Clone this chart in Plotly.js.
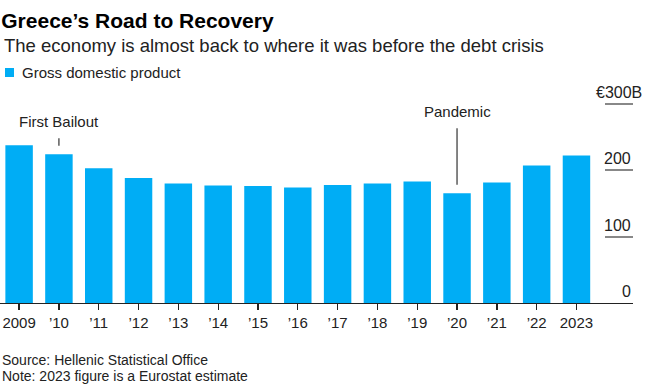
<!DOCTYPE html>
<html>
<head>
<meta charset="utf-8">
<script src="https://cdn.plot.ly/plotly-3.0.1.min.js"></script>
<style>html,body{margin:0;padding:0;background:#fff;}#chart{width:650px;height:387px;}</style>
</head>
<body>
<div id="chart"></div>
<script>
// ---- data ----
const years = ['2009','2010','2011','2012','2013','2014','2015','2016','2017','2018','2019','2020','2021','2022','2023'];
const yearLabels = ['2009','’10','’11','’12','’13','’14','’15','’16','’17','’18','’19','’20','’21','’22','2023'];
const gdp = [237.5, 224, 203, 188, 180, 177, 176, 174, 177.5, 180, 183, 165, 181.5, 207, 222];
const seriesName = 'Gross domestic product';
const yTickVals = [0, 100, 200, 300];
const yTickText = ['0', '100', '200', '€300B'];
const notes = [{year: '2010', text: 'First Bailout'}, {year: '2020', text: 'Pandemic'}];
const titleText = 'Greece’s Road to Recovery';
const subtitleText = 'The economy is almost back to where it was before the debt crisis';
const sourceLines = ['Source: Hellenic Statistical Office', 'Note: 2023 figure is a Eurostat estimate'];

// ---- styling ----
const FONT = 'Liberation Sans, Arial, Helvetica, sans-serif';
const BAR = '#00adf5';
const TXT = '#222222';
const H = 387, MT = 95, MB = 84, PH = H - MT - MB;
const pyToPaper = p => (H - MB - p) / PH;

const annotations = [];
// subtitle
annotations.push({xref:'paper', yref:'paper', x:0.003, y:pyToPaper(46), xanchor:'left', yanchor:'middle',
  text: subtitleText, showarrow:false, font:{family:FONT, size:18.5, color:TXT}});
// legend text
annotations.push({xref:'paper', yref:'paper', x:20/633, y:pyToPaper(72.5), xanchor:'left', yanchor:'middle',
  text: seriesName, showarrow:false, font:{family:FONT, size:15, color:TXT}});
// source lines
sourceLines.forEach((s, i) => annotations.push({xref:'paper', yref:'paper', x:0.002, y:pyToPaper(360 + i*16),
  xanchor:'left', yanchor:'middle', text:s, showarrow:false, borderpad:0, font:{family:FONT, size:14, color:TXT}}));
// y tick labels (above the short gridlines, right-aligned)
yTickVals.forEach((v, i) => annotations.push({xref:'paper', yref:'y', x:1, y:v, xanchor:'right', yanchor:'bottom',
  xshift: yTickText[i].endsWith('B') ? 11 : 0, yshift: 1,
  text:yTickText[i], showarrow:false, font:{family:FONT, size:16, color:TXT}}));
// event notes
const offsets = {'2010': -33, '2020': -82};
notes.forEach(n => {
  const idx = years.indexOf(n.year);
  annotations.push({x:idx, y:gdp[idx], xref:'x', yref:'y', text:n.text, showarrow:true,
    arrowhead:0, arrowwidth:1.2, arrowcolor:'#333', ax:0, ay:offsets[n.year], standoff:8.5, startstandoff:7,
    font:{family:FONT, size:15, color:TXT}});
});

const trace = {type:'bar', x:years, y:gdp, name:seriesName, marker:{color:BAR}, hoverinfo:'x+y'};

const layout = {
  width:650, height:387,
  margin:{l:0, r:17, t:MT, b:MB, pad:0},
  paper_bgcolor:'#fff', plot_bgcolor:'#fff',
  showlegend:false,
  bargap:0.31,
  title:{text:'<b>'+titleText+'</b>', font:{family:FONT, size:21, color:'#000'},
    x:0.002, xref:'paper', xanchor:'left', y:1-20.6/387, yref:'container', yanchor:'middle'},
  xaxis:{type:'category', range:[-0.48, 15.42], tickvals:years, ticktext:yearLabels,
    showline:true, linecolor:'#222', linewidth:1.3, ticks:'outside', ticklen:6, tickwidth:1.3, tickcolor:'#222',
    showgrid:false, zeroline:false, tickfont:{family:FONT, size:15, color:TXT}, fixedrange:true},
  yaxis:{range:[0, PH/0.6644], side:'right', tickvals:yTickVals.slice(1), showticklabels:false,
    ticks:'inside', ticklen:28, tickwidth:2, tickcolor:'#888', showgrid:false, zeroline:false, showline:false, fixedrange:true},
  shapes:[{type:'rect', xref:'paper', yref:'paper', x0:5/633, x1:14/633, y0:pyToPaper(77), y1:pyToPaper(68),
    fillcolor:BAR, line:{width:0}}],
  annotations:annotations
};

Plotly.newPlot('chart', [trace], layout, {displayModeBar:false, staticPlot:true});
</script>
</body>
</html>
